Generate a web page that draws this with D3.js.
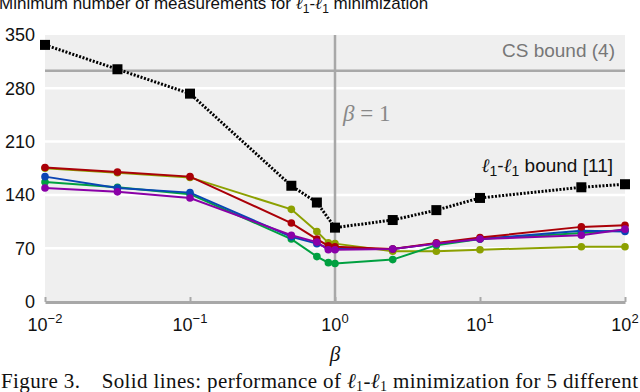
<!DOCTYPE html>
<html>
<head>
<meta charset="utf-8">
<script src="https://cdn.jsdelivr.net/npm/d3@7"></script>
<style>
  body { margin: 0; background: #fff; }
  svg { display: block; }
  .sans { font-family: "Liberation Sans", Arial, sans-serif; }
  .serif { font-family: "Liberation Serif", "Times New Roman", serif; }
</style>
</head>
<body>
<script>
// beta values
var betaBound = [0.01, 0.0316, 0.1, 0.5, 0.75, 1, 2.5, 5, 10, 50, 100];
var betaSim = [0.01, 0.0316, 0.1, 0.5, 0.75, 0.9, 1, 2.5, 5, 10, 50, 100];

// l1-l1 bound (black dotted)
var l1l1Bound = [337, 305, 273, 152, 130, 97, 107, 120, 136, 150, 154];
var csBound = 303;

// solid lines, 5 signals
var seriesNames = ["olive", "green", "blue", "red", "purple"];
var seriesColors = ["#8ca000", "#00a040", "#0a46b4", "#aa0008", "#8a00a8"];
var olive  = [175, 169, 163, 121, 92, 77, 76, 66, 66, 68, 72, 72];
var green  = [157, 150, 141, 82, 59, 51, 50, 55, 74, 82, 90, 94];
var blue   = [164, 149, 143, 85, 76, 70, 69, 69, 76, 82, 93, 92];
var red    = [176, 170, 164, 103, 82, 73, 72, 69, 77, 84, 98, 100];
var purple = [149, 144, 136, 87, 78, 68, 68, 69, 76, 82, 87, 95];
var seriesValues = [olive, green, blue, red, purple];

var yTicks = [0, 70, 140, 210, 280, 350];
var xTicks = [0.01, 0.1, 1, 10, 100];
var xTickExp = ["\u22122", "\u22121", "0", "1", "2"];

var width = 640, height = 392;
var plotL = 45, plotR = 625, plotT = 35, plotB = 301.5;

var svg = d3.select("body").append("svg")
    .attr("width", width)
    .attr("height", height);

var x = d3.scaleLog().domain([0.01, 100]).range([plotL, plotR]);
var y = d3.scaleLinear().domain([0, 350]).range([plotB, plotT]);

// title (cut at top)
var title = svg.append("text")
    .attr("class", "sans")
    .attr("x", -1)
    .attr("y", 9)
    .attr("font-size", 17)
    .attr("fill", "#111");
title.append("tspan").text("Minimum number of measurements for ");
title.append("tspan").attr("class", "serif").attr("font-style", "italic").text("\u2113");
title.append("tspan").attr("font-size", 12).attr("dy", 4).text("1");
title.append("tspan").attr("dy", -4).text("-");
title.append("tspan").attr("class", "serif").attr("font-style", "italic").text("\u2113");
title.append("tspan").attr("font-size", 12).attr("dy", 4).text("1");
title.append("tspan").attr("dy", -4).text(" minimization");

// background
svg.append("rect")
    .attr("x", plotL)
    .attr("y", plotT)
    .attr("width", plotR - plotL)
    .attr("height", plotB - plotT)
    .attr("fill", "#efefef");

// grid
svg.append("g")
  .selectAll("line")
  .data(yTicks.filter(function(d) { return d > 0 && d < 350; }))
  .enter().append("line")
    .attr("x1", plotL)
    .attr("x2", plotR)
    .attr("y1", function(d) { return y(d); })
    .attr("y2", function(d) { return y(d); })
    .attr("stroke", "#fff")
    .attr("stroke-width", 2.5);

// y labels
svg.append("g")
  .selectAll("text")
  .data(yTicks)
  .enter().append("text")
    .attr("class", "sans")
    .attr("x", 35)
    .attr("y", function(d) { return y(d); })
    .attr("dy", "0.36em")
    .attr("text-anchor", "end")
    .attr("font-size", 18)
    .attr("fill", "#111")
    .text(function(d) { return d; });

// CS bound line
svg.append("line")
    .attr("x1", plotL)
    .attr("x2", plotR)
    .attr("y1", y(csBound))
    .attr("y2", y(csBound))
    .attr("stroke", "#a8a8a8")
    .attr("stroke-width", 2.5);

// beta = 1 line
svg.append("line")
    .attr("x1", x(1))
    .attr("x2", x(1))
    .attr("y1", plotT)
    .attr("y2", plotB)
    .attr("stroke", "#a8a8a8")
    .attr("stroke-width", 2.5);

// x axis
var xAxis = d3.axisBottom(x)
    .tickValues(xTicks)
    .tickSize(-5)
    .tickSizeOuter(0)
    .tickFormat("");

var gx = svg.append("g")
    .attr("transform", "translate(0," + (plotB + 0.5) + ")")
    .call(xAxis);
gx.select(".domain").attr("stroke", "#a8a8a8").attr("stroke-width", 3);
gx.selectAll(".tick line").attr("stroke", "#a8a8a8").attr("stroke-width", 2);

var xl = svg.append("g")
  .selectAll("text")
  .data(xTicks)
  .enter().append("text")
    .attr("class", "sans")
    .attr("x", function(d) { return x(d); })
    .attr("y", 331)
    .attr("text-anchor", "middle")
    .attr("font-size", 18)
    .attr("fill", "#111");
xl.append("tspan").text("10");
xl.append("tspan")
    .attr("font-size", 13)
    .attr("dy", -8)
    .text(function(d, i) { return xTickExp[i]; });

// axis label
svg.append("text")
    .attr("class", "serif")
    .attr("x", x(1))
    .attr("y", 361)
    .attr("text-anchor", "middle")
    .attr("font-size", 21)
    .attr("font-style", "italic")
    .attr("fill", "#111")
    .text("\u03b2");

// annotations
var b1 = svg.append("text")
    .attr("class", "serif")
    .attr("x", 343)
    .attr("y", 121)
    .attr("font-size", 23)
    .attr("fill", "#888");
b1.append("tspan").attr("font-style", "italic").text("\u03b2");
b1.append("tspan").text(" = 1");

svg.append("text")
    .attr("class", "sans")
    .attr("x", 615)
    .attr("y", 57)
    .attr("text-anchor", "end")
    .attr("font-size", 19)
    .attr("fill", "#777")
    .text("CS bound (4)");

var lb = svg.append("text")
    .attr("class", "sans")
    .attr("x", 613)
    .attr("y", 172)
    .attr("text-anchor", "end")
    .attr("font-size", 19)
    .attr("fill", "#111");
lb.append("tspan").attr("class", "serif").attr("font-style", "italic").text("\u2113");
lb.append("tspan").attr("font-size", 14).attr("dy", 4).text("1");
lb.append("tspan").attr("dy", -4).text("-");
lb.append("tspan").attr("class", "serif").attr("font-style", "italic").text("\u2113");
lb.append("tspan").attr("font-size", 14).attr("dy", 4).text("1");
lb.append("tspan").attr("dy", -4).text(" bound [11]");

// solid series
var line = d3.line()
    .x(function(d) { return x(d[0]); })
    .y(function(d) { return y(d[1]); });

seriesValues.forEach(function(vals, i) {
  var pts = betaSim.map(function(b, j) { return [b, vals[j]]; });
  var g = svg.append("g").attr("class", "series " + seriesNames[i]);
  g.append("path")
      .datum(pts)
      .attr("fill", "none")
      .attr("stroke", seriesColors[i])
      .attr("stroke-width", 2)
      .attr("d", line);
  g.selectAll("circle")
      .data(pts)
      .enter().append("circle")
      .attr("cx", function(d) { return x(d[0]); })
      .attr("cy", function(d) { return y(d[1]); })
      .attr("r", 3.8)
      .attr("fill", seriesColors[i]);
});

// l1-l1 bound dotted
var boundPts = betaBound.map(function(b, j) { return [b, l1l1Bound[j]]; });
svg.append("path")
    .datum(boundPts)
    .attr("fill", "none")
    .attr("stroke", "#000")
    .attr("stroke-width", 3)
    .attr("stroke-dasharray", "2,1.6")
    .attr("d", line);
svg.append("g")
  .selectAll("rect")
  .data(boundPts)
  .enter().append("rect")
    .attr("x", function(d) { return x(d[0]) - 5; })
    .attr("y", function(d) { return y(d[1]) - 5; })
    .attr("width", 10)
    .attr("height", 10)
    .attr("fill", "#000");

// caption (cut at bottom)
var cap = svg.append("text")
    .attr("class", "serif")
    .attr("x", 1)
    .attr("y", 388)
    .attr("font-size", 21)
    .attr("textLength", 637)
    .attr("lengthAdjust", "spacing")
    .attr("fill", "#111");
cap.append("tspan").text("Figure 3.\u2003Solid lines: performance of ");
cap.append("tspan").attr("font-style", "italic").text("\u2113");
cap.append("tspan").attr("font-size", 14).attr("dy", 3).text("1");
cap.append("tspan").attr("dy", -3).text("-");
cap.append("tspan").attr("font-style", "italic").text("\u2113");
cap.append("tspan").attr("font-size", 14).attr("dy", 3).text("1");
cap.append("tspan").attr("dy", -3).text(" minimization for 5 different");
</script>
</body>
</html>
